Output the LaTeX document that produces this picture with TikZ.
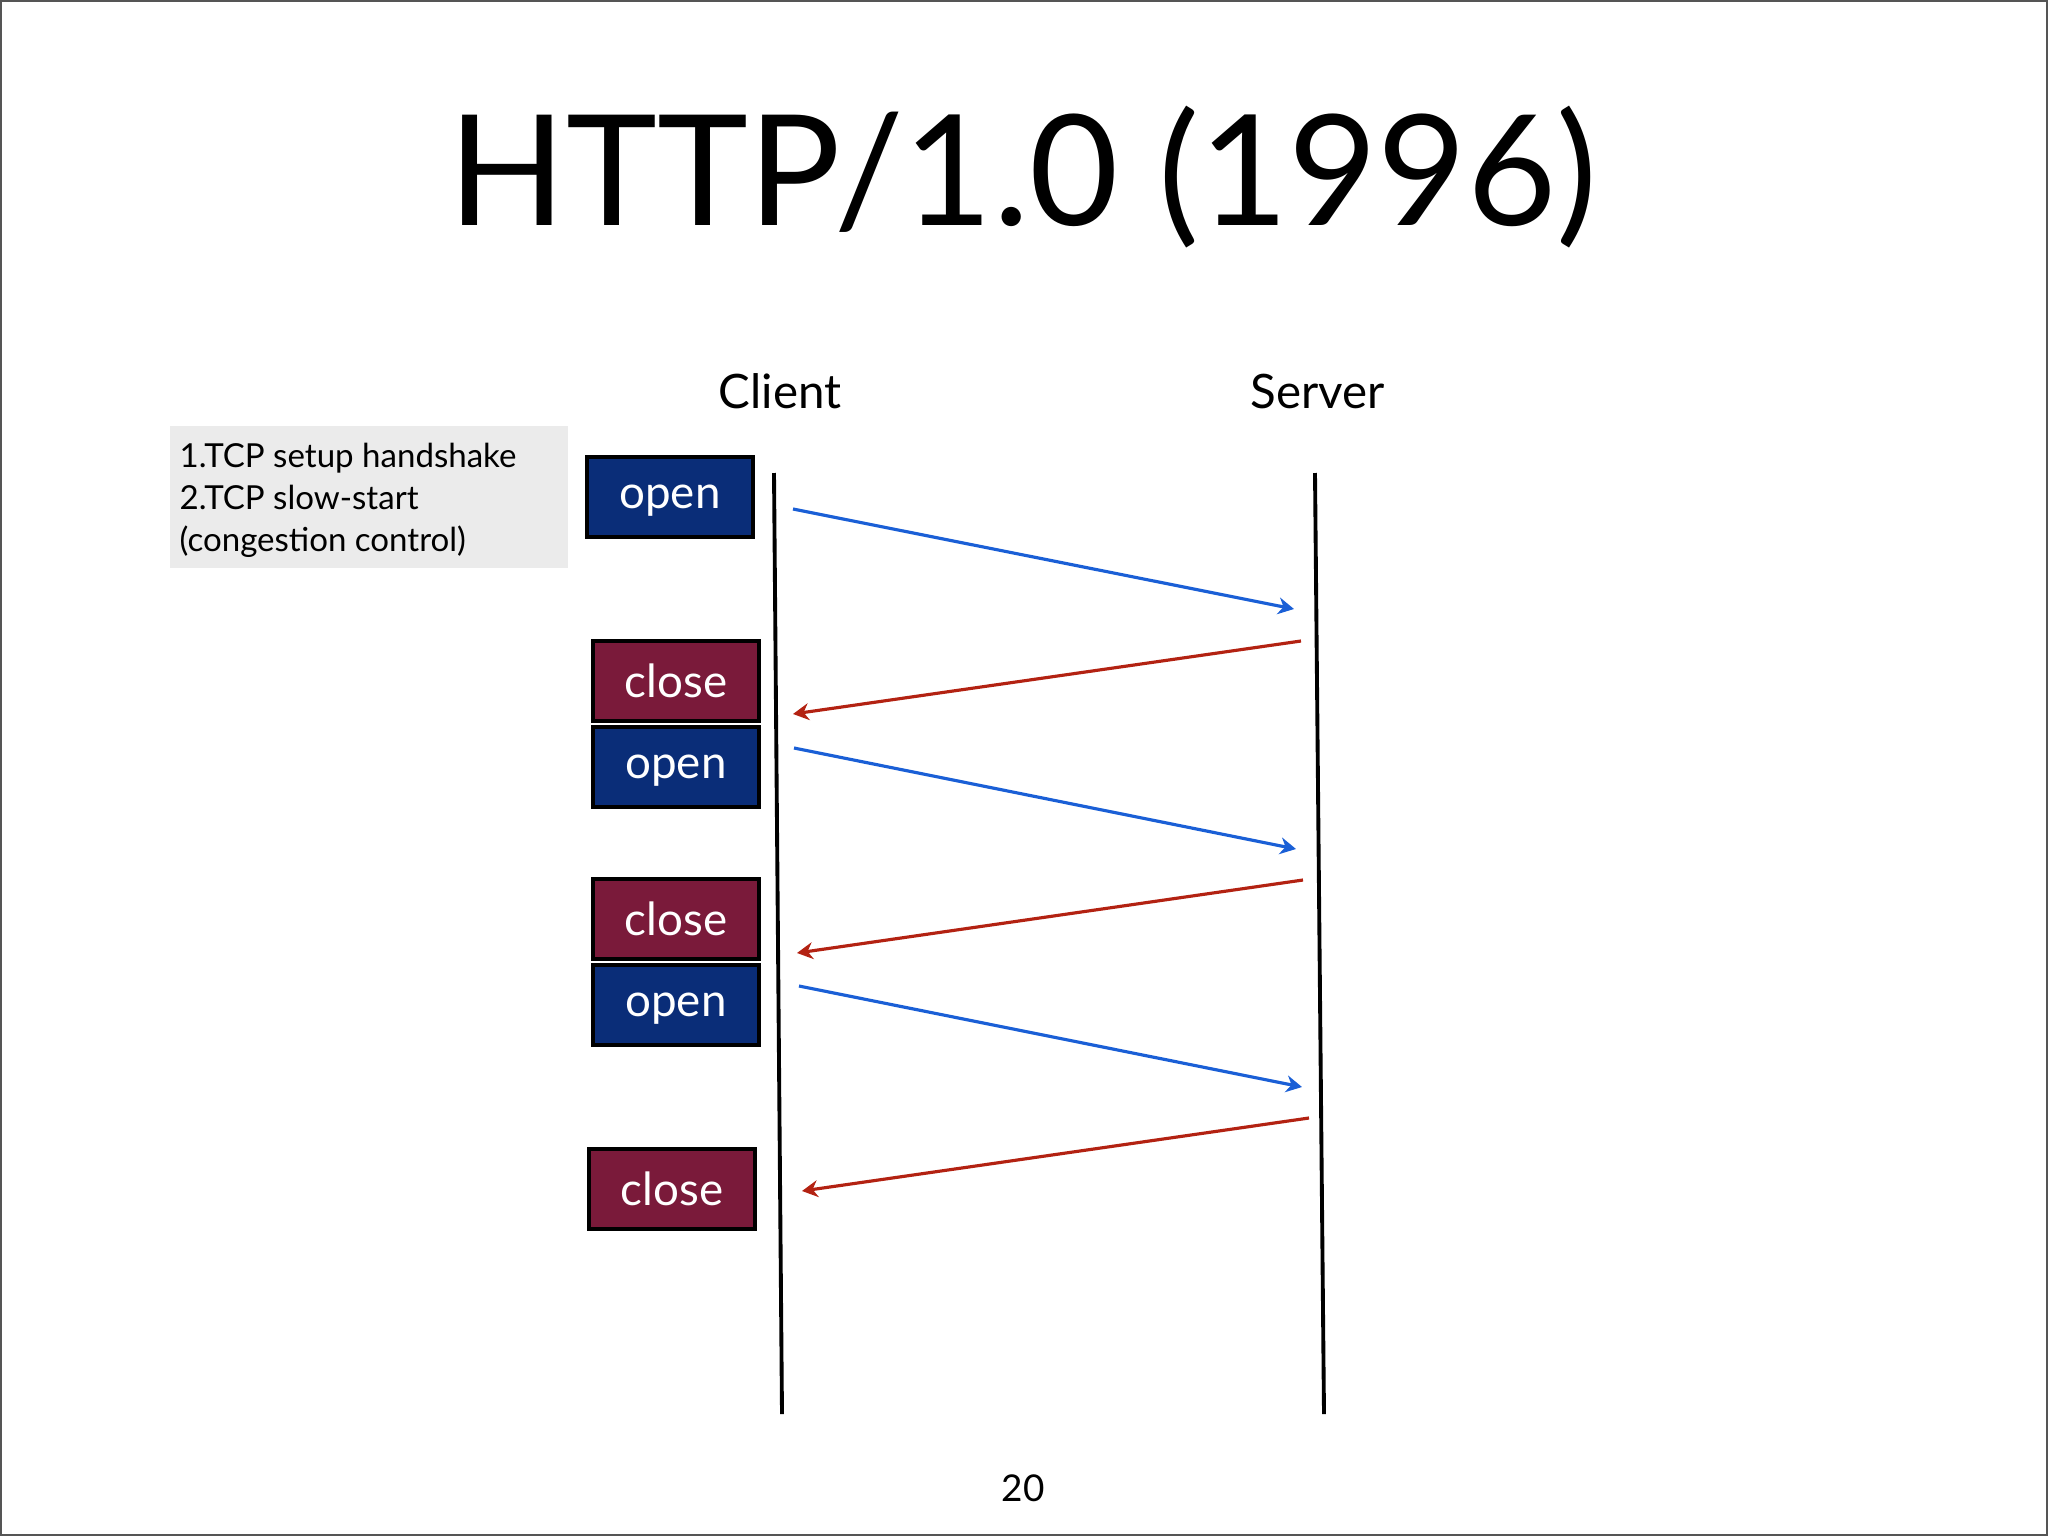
\documentclass[tikz,border=0pt]{standalone}
\usepackage{fontspec}
\setmainfont{Lato}
\usetikzlibrary{arrows.meta}
\definecolor{openblue}{HTML}{0A2D78}
\definecolor{closered}{HTML}{7A1A3A}
\definecolor{msgblue}{HTML}{1A5FD6}
\definecolor{msgred}{HTML}{B32212}
\definecolor{notegray}{HTML}{EBEBEB}
\definecolor{framegray}{HTML}{555555}
\begin{document}
\begin{tikzpicture}[x=0.01cm,y=-0.01cm]
\tikzstyle{openbox}=[draw=black, line width=1.2pt, fill=openblue, text=white, minimum width=1.66cm, minimum height=0.8cm, inner sep=0, text depth=0pt, font=\fontsize{13}{15}\selectfont]
\tikzstyle{closebox}=[openbox, fill=closered]
\tikzstyle{msgto}=[msgblue, line width=0.9pt, -{Stealth[length=4.5pt, width=4.8pt]}]
\tikzstyle{msgback}=[msgto, msgred]
\useasboundingbox (0,0) rectangle (2048,1536);
\draw[framegray, line width=1.2pt](0,0) rectangle (2048,1536);
\node[anchor=base] (title) at(1023,225){\fontsize{43.8}{50}\selectfont HTTP/1.0 (1996)};
\node[anchor=base, font=\fontsize{13.5}{16}\selectfont] (client) at(780,408){Client};
\node[anchor=base, font=\fontsize{13.5}{16}\selectfont] (server) at(1318,408){Server};
% lifelines
\coordinate (ctop) at(774,473);
\coordinate (cbot) at(782,1414);
\coordinate (stop) at(1315,473);
\coordinate (sbot) at(1324,1414);
\draw[line width=1.1pt](ctop)--(cbot);
\draw[line width=1.1pt](stop)--(sbot);
% note
\fill[notegray](170,426) rectangle (568,568);
\node[anchor=base west, inner sep=0, font=\fontsize{9.4}{11}\selectfont] (note1) at(179,467){1.TCP setup handshake};
\node[anchor=base west, inner sep=0, font=\fontsize{9.4}{11}\selectfont] (note2) at(179,509){2.TCP slow-start};
\node[anchor=base west, inner sep=0, font=\fontsize{9.4}{11}\selectfont] (note3) at(179,551){(congestion control)};
% boxes
\node[openbox] (open1) at(670,497){open};
\node[closebox] (close1) at(676,681){close};
\node[openbox] (open2) at(676,767){open};
\node[closebox] (close2) at(676,919){close};
\node[openbox] (open3) at(676,1005){open};
\node[closebox] (close3) at(672,1189){close};
% messages
\coordinate (c1) at(793,509);
\coordinate (s1) at(1294,609);
\coordinate (s2) at(1301,641);
\coordinate (c2) at(793,714);
\coordinate (c3) at(794,748);
\coordinate (s3) at(1296,849);
\coordinate (s4) at(1303,880);
\coordinate (c4) at(797,953);
\coordinate (c5) at(799,986);
\coordinate (s5) at(1302,1087);
\coordinate (s6) at(1309,1118);
\coordinate (c6) at(802,1191);
\draw[msgto](c1)--(s1);
\draw[msgback](s2)--(c2);
\draw[msgto](c3)--(s3);
\draw[msgback](s4)--(c4);
\draw[msgto](c5)--(s5);
\draw[msgback](s6)--(c6);
\node[anchor=base, font=\fontsize{10.5}{12}\selectfont] (page) at(1023,1501){20};
\end{tikzpicture}
\end{document}
